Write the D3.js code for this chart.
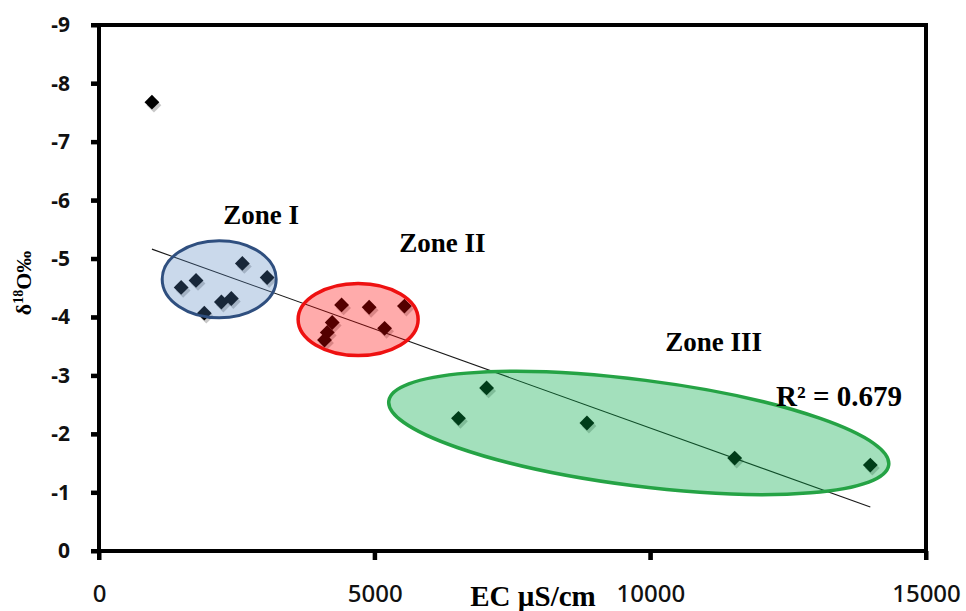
<!DOCTYPE html>
<html>
<head>
<meta charset="utf-8">
<script src="https://cdn.jsdelivr.net/npm/d3@7"></script>
</head>
<body style="margin:0">
<svg id="chart" width="966" height="611"></svg>
<script>
// Data
const ecValues = [960, 2600, 3050, 1490, 1760, 2220, 2400, 1910,
    4400, 4900, 5540, 4230, 4140, 4090, 5180,
    6520, 7030, 8850, 11530, 13990];
const d18OValues = [-7.68, -4.92, -4.68, -4.51, -4.63, -4.26, -4.32, -4.07,
    -4.21, -4.17, -4.19, -3.91, -3.74, -3.61, -3.81,
    -2.27, -2.79, -2.19, -1.59, -1.47];
const xTicks = [0, 5000, 10000, 15000];
const yTicks = [0, -1, -2, -3, -4, -5, -6, -7, -8, -9];
const zoneNames = ['Zone I', 'Zone II', 'Zone III'];
const r2Label = 'R² = 0.679';

const W = 966, H = 611;
const margin = { top: 25, right: 40, bottom: 60, left: 99 };
const serif = '"Liberation Serif", "Times New Roman", serif';
const sans = '"Noto Sans", "Open Sans", sans-serif';
const axisW = 4;

const svg = d3.select('#chart');

const x = d3.scaleLinear().domain([0, 15000]).range([margin.left, W - margin.right]);
const y = d3.scaleLinear().domain([0, -9]).range([H - margin.bottom, margin.top]);

const points = ecValues.map((v, i) => ({ ec: v, d: d18OValues[i] }));

// Linear trend line (least squares over all points)
const mx = d3.mean(points, p => p.ec), my = d3.mean(points, p => p.d);
const slope = d3.sum(points, p => (p.ec - mx) * (p.d - my)) / d3.sum(points, p => (p.ec - mx) ** 2);
const intercept = my - slope * mx;
const [xMin, xMax] = d3.extent(points, p => p.ec);

svg.append('line')
    .attr('x1', x(xMin)).attr('y1', y(slope * xMin + intercept))
    .attr('x2', x(xMax)).attr('y2', y(slope * xMax + intercept))
    .attr('stroke', '#1a1a1a').attr('stroke-width', 1.1);

// markers with a soft offset shadow
const diamond = d3.symbol(d3.symbolSquare, 110);
const marks = svg.append('g');
marks.selectAll('path.shadow')
    .data(points)
    .join('path')
    .attr('class', 'shadow')
    .attr('d', diamond)
    .attr('transform', p => `translate(${x(p.ec) + 2},${y(p.d) + 3}) rotate(45)`)
    .attr('fill', '#000').attr('opacity', 0.22);
marks.selectAll('path.dot')
    .data(points)
    .join('path')
    .attr('class', 'dot')
    .attr('d', diamond)
    .attr('transform', p => `translate(${x(p.ec)},${y(p.d)}) rotate(45)`)
    .attr('fill', '#000');

// zone ellipses, drawn on top with a translucent fill
const zones = [
    { cx: 2180, cy: -4.65, rx: 57, ry: 38.5, rot: 0, fill: 'rgba(79,129,189,0.3)', stroke: '#2f4f7f', sw: 3 },
    { cx: 4700, cy: -3.96, rx: 60, ry: 36, rot: 0, fill: 'rgba(255,0,0,0.33)', stroke: '#ee1111', sw: 3.5 },
    { cx: 9790, cy: -2.02, rx: 252, ry: 53, rot: 7.3, fill: 'rgba(0,170,70,0.36)', stroke: '#25a345', sw: 3.5 }
];

svg.append('g').selectAll('ellipse')
    .data(zones)
    .join('ellipse')
    .attr('transform', z => `translate(${x(z.cx)},${y(z.cy)}) rotate(${z.rot})`)
    .attr('rx', z => z.rx).attr('ry', z => z.ry)
    .attr('fill', z => z.fill)
    .attr('stroke', z => z.stroke)
    .attr('stroke-width', z => z.sw);

// zone labels (anchored in data units)
const labelAnchors = [[2940, -5.59], [6230, -5.11], [11150, -3.42]];
svg.append('g').selectAll('text')
    .data(zoneNames)
    .join('text')
    .attr('x', (d, i) => x(labelAnchors[i][0]))
    .attr('y', (d, i) => y(labelAnchors[i][1]))
    .attr('text-anchor', 'middle')
    .attr('font-family', serif).attr('font-weight', 'bold')
    .attr('font-size', 27)
    .text(d => d);

svg.append('text')
    .attr('x', x(12280)).attr('y', y(-2.48))
    .attr('font-family', serif).attr('font-weight', 'bold')
    .attr('font-size', 29)
    .text(r2Label);

// axes: labels from d3 axes
const fmt = d => String(d);

const yAxis = svg.append('g')
    .attr('transform', `translate(${margin.left},0)`)
    .call(d3.axisLeft(y).tickValues(yTicks).tickSize(8).tickPadding(21).tickFormat(fmt));
yAxis.selectAll('text')
    .attr('fill', '#111')
    .attr('font-size', 21)
    .attr('font-weight', 'bold')
    .attr('font-family', sans);

const xAxis = svg.append('g')
    .attr('transform', `translate(0,${H - margin.bottom})`)
    .call(d3.axisBottom(x).tickValues(xTicks).tickSize(9).tickPadding(25).tickFormat(fmt));
xAxis.selectAll('text')
    .attr('fill', '#111')
    .attr('font-size', 24)
    .attr('font-weight', 500)
    .attr('font-family', sans);

[yAxis, xAxis].forEach(g => {
    g.select('.domain').remove();
    g.selectAll('.tick line').attr('stroke', '#000').attr('stroke-width', axisW);
});

// tick marks and frame as filled bars
const fx0 = margin.left, fx1 = W - margin.right;
const fy0 = margin.top, fy1 = H - margin.bottom;
const bars = svg.append('g').attr('fill', '#000');

bars.selectAll('rect.ytick')
    .data(yTicks)
    .join('rect')
    .attr('class', 'ytick')
    .attr('x', fx0 - 8).attr('y', d => y(d) - axisW / 2)
    .attr('width', 8).attr('height', axisW);

bars.selectAll('rect.xtick')
    .data(xTicks)
    .join('rect')
    .attr('class', 'xtick')
    .attr('x', d => x(d) - axisW / 2).attr('y', fy1)
    .attr('width', axisW).attr('height', 9);

const frameSides = [
    [fx0 - axisW / 2, fy0 - axisW / 2, fx1 - fx0 + axisW, axisW],
    [fx0 - axisW / 2, fy1 - axisW / 2, fx1 - fx0 + axisW, axisW],
    [fx0 - axisW / 2, fy0 - axisW / 2, axisW, fy1 - fy0 + axisW],
    [fx1 - axisW / 2, fy0 - axisW / 2, axisW, fy1 - fy0 + axisW]
];
bars.selectAll('rect.side')
    .data(frameSides)
    .join('rect')
    .attr('class', 'side')
    .attr('x', s => s[0]).attr('y', s => s[1])
    .attr('width', s => s[2]).attr('height', s => s[3]);

// axis titles
svg.append('text')
    .attr('x', 533).attr('y', 606)
    .attr('text-anchor', 'middle')
    .attr('font-family', serif).attr('font-weight', 'bold')
    .attr('font-size', 29)
    .text('EC µS/cm');

const yTitle = svg.append('text')
    .attr('transform', 'translate(31,283) rotate(-90)')
    .attr('text-anchor', 'middle')
    .attr('font-family', serif).attr('font-weight', 'bold')
    .attr('font-size', 22);
yTitle.append('tspan').text('δ');
yTitle.append('tspan').attr('font-size', 14).attr('dy', -8).text('18');
yTitle.append('tspan').attr('dy', 8).text('O‰');
</script>
</body>
</html>
